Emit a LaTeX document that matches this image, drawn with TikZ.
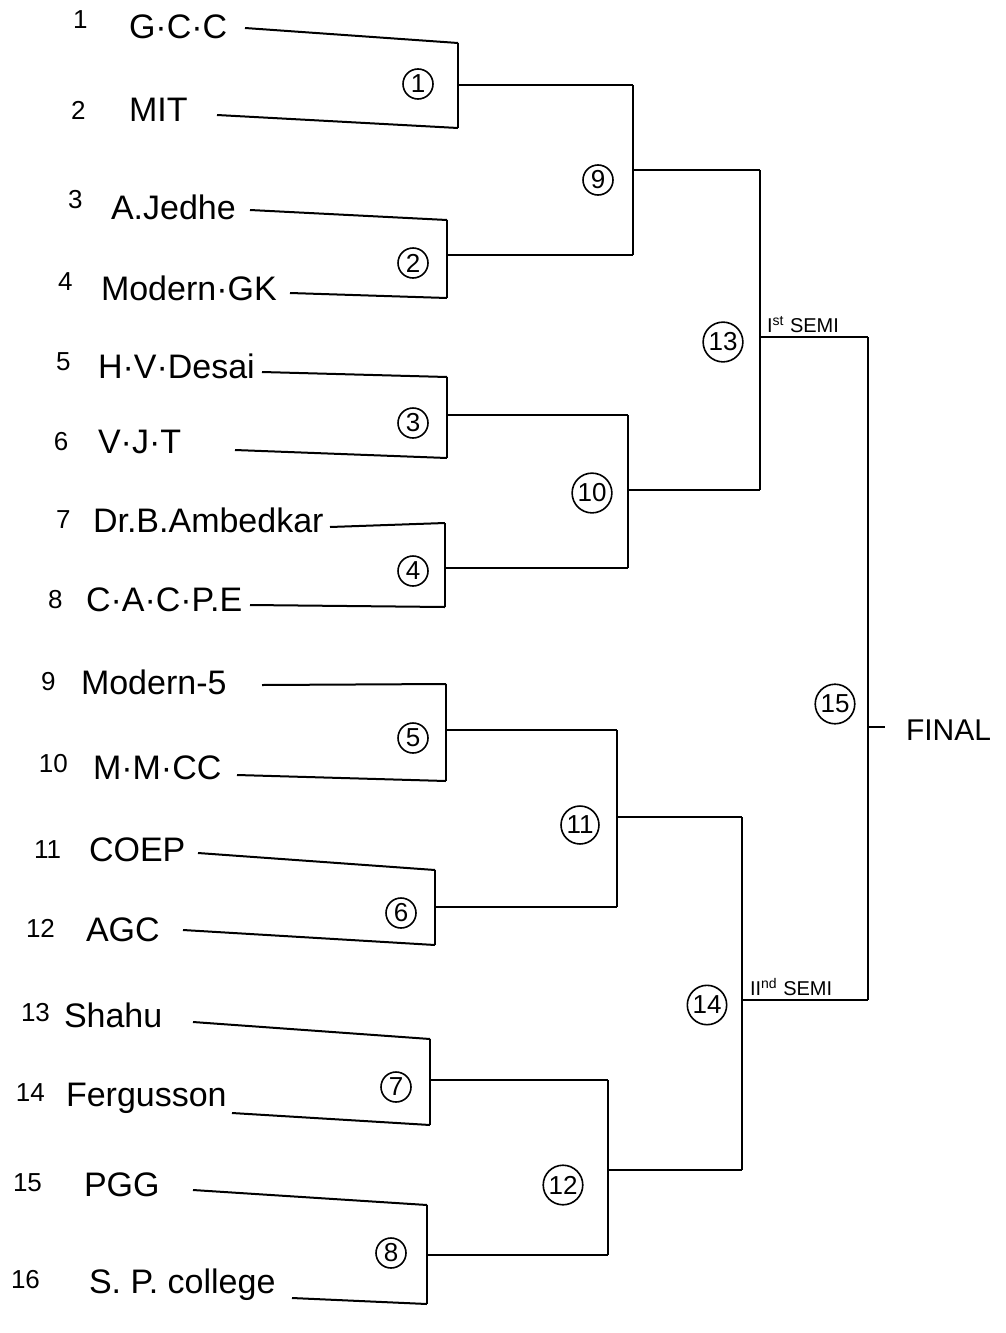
\documentclass[tikz,border=0pt]{standalone}
\usepackage{fontspec}
\setmainfont{Liberation Sans}

\begin{document}
\begin{tikzpicture}
  [x=0.5pt,y=-0.5pt,line width=1pt,
   team/.style={anchor=west,inner sep=0pt,font=\fontsize{17}{19}\selectfont},
   seed/.style={anchor=west,inner sep=0pt,font=\fontsize{13}{15}\selectfont},
   match/.style={circle,draw,line width=0.8pt,inner sep=1pt,minimum size=15pt,font=\fontsize{13}{14}\selectfont},
   round/.style={anchor=south west,inner sep=1.5pt,font=\fontsize{10}{12}\selectfont}]
  \useasboundingbox (0,0) rectangle (1006,1333);

  % teams: seed x, seed y, name x, name y, name, start of its line
  \foreach \k/\nx/\ny/\tx/\ty/\name/\lx/\ly in {
      1/72/20/128/27/G·C·C/245/28,
      2/70/110/128/110/MIT/217/115,
      3/67/200/110/207/A.Jedhe/250/210,
      4/57/282/100/288/Modern·GK/290/293,
      5/55/362/97/366/H·V·Desai/262/372,
      6/53/442/97/442/V·J·T/235/450,
      7/55/520/92/520/Dr.B.Ambedkar/330/527,
      8/47/600/85/600/C·A·C·P.E/250/605,
      9/40/682/80/682/Modern-5/262/685,
      10/38/764/92/768/M·M·CC/237/775,
      11/33/850/88/850/COEP/198/853,
      12/25/928/85/930/AGC/183/930,
      13/20/1013/63/1015/Shahu/193/1022,
      14/15/1093/65/1098/Fergusson/232/1113,
      15/12/1183/83/1185/PGG/193/1190,
      16/10/1280/88/1285/S. P. college/292/1298}
  {
    \node[seed] (n\k) at (\nx,\ny) {\k};
    \node[team] (t\k) at (\tx,\ty) {\name};
    \coordinate (l\k) at (\lx,\ly);
  }

  % matches: x of the bar, its top, bottom, way out, place of the number
  \foreach \m/\mx/\top/\bot/\out/\cx/\cy in {
      1/458/43/128/85/418/84,
      2/447/220/298/255/413/263,
      3/447/377/458/415/413/423,
      4/445/523/607/568/413/571,
      5/446/684/781/730/413/738,
      6/435/870/945/907/401/913,
      7/430/1039/1125/1080/396/1087,
      8/427/1205/1304/1255/391/1253,
      9/633/85/255/170/598/180,
      10/628/415/568/490/592/493,
      11/617/730/907/817/580/825,
      12/608/1080/1255/1170/563/1185,
      13/760/170/490/337/723/342,
      14/742/817/1170/1000/707/1005,
      15/868/337/1000/727/835/704}
  {
    \coordinate (a\m) at (\mx,\top);
    \coordinate (b\m) at (\mx,\bot);
    \coordinate (o\m) at (\mx,\out);
    \node[match] (m\m) at (\cx,\cy) {\m};
    \draw (a\m) -- (b\m);
  }

  \foreach \from/\to in {l1/a1,l2/b1,l3/a2,l4/b2,l5/a3,l6/b3,l7/a4,l8/b4,
      l9/a5,l10/b5,l11/a6,l12/b6,l13/a7,l14/b7,l15/a8,l16/b8,
      o1/a9,o2/b9,o3/a10,o4/b10,o5/a11,o6/b11,o7/a12,o8/b12,
      o9/a13,o10/b13,o11/a14,o12/b14,o13/a15,o14/b15}
    \draw (\from) -- (\to);

  \node[round] (semi1) at (763,337) {I\textsuperscript{st} SEMI};
  \node[round] (semi2) at (746,1000) {II\textsuperscript{nd} SEMI};

  \coordinate (f) at (885,727);
  \draw (o15) -- (f);
  \node[anchor=west,inner sep=0pt,font=\fontsize{15}{17}\selectfont] (final) at (905,730) {FINAL};

\end{tikzpicture}
\end{document}
